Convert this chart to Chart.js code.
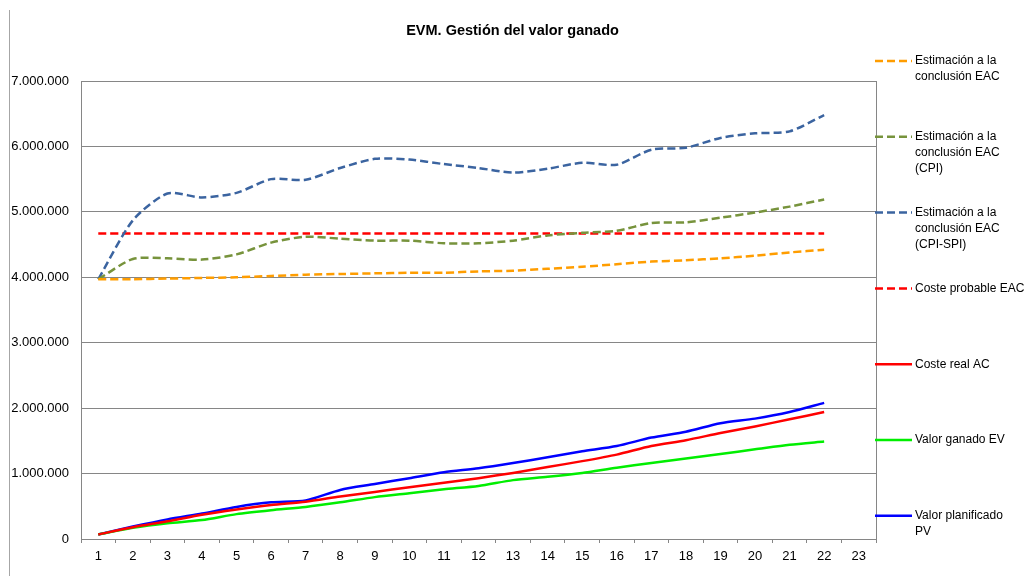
<!DOCTYPE html>
<html>
<head>
<meta charset="utf-8">
<script src="https://cdn.jsdelivr.net/npm/chart.js@4/dist/chart.umd.min.js"></script>
<style>
  html, body { margin: 0; padding: 0; background: #fff; }
</style>
</head>
<body>
<canvas id="myChart" width="1025" height="576"></canvas>
<script>
const categories = ['1','2','3','4','5','6','7','8','9','10','11','12','13','14','15','16','17','18','19','20','21','22','23'];

const eac       = [3970000, 3970000, 3980000, 3990000, 4000000, 4020000, 4040000, 4050000, 4060000, 4070000, 4070000, 4090000, 4100000, 4130000, 4160000, 4200000, 4240000, 4260000, 4290000, 4330000, 4380000, 4420000];
const eacCpi    = [3970000, 4280000, 4290000, 4270000, 4350000, 4530000, 4620000, 4590000, 4560000, 4560000, 4520000, 4520000, 4560000, 4640000, 4680000, 4710000, 4830000, 4840000, 4910000, 4990000, 5080000, 5190000];
const eacCpiSpi = [3970000, 4870000, 5280000, 5220000, 5290000, 5500000, 5490000, 5670000, 5810000, 5800000, 5730000, 5670000, 5600000, 5660000, 5750000, 5720000, 5950000, 5980000, 6130000, 6200000, 6230000, 6480000];
const costeProbable = [4670000, 4670000, 4670000, 4670000, 4670000, 4670000, 4670000, 4670000, 4670000, 4670000, 4670000, 4670000, 4670000, 4670000, 4670000, 4670000, 4670000, 4670000, 4670000, 4670000, 4670000, 4670000];
const costeReal = [70000, 180000, 270000, 370000, 450000, 520000, 570000, 650000, 720000, 790000, 860000, 930000, 1010000, 1100000, 1190000, 1290000, 1420000, 1510000, 1620000, 1720000, 1830000, 1940000];
const valorGanado = [70000, 170000, 240000, 290000, 380000, 440000, 490000, 560000, 640000, 700000, 760000, 810000, 900000, 950000, 1010000, 1090000, 1160000, 1230000, 1300000, 1370000, 1440000, 1490000];
const valorPlanificado = [70000, 190000, 300000, 390000, 490000, 560000, 590000, 750000, 840000, 930000, 1020000, 1080000, 1160000, 1250000, 1340000, 1420000, 1550000, 1640000, 1770000, 1840000, 1940000, 2080000];

const yTicks = [0, 1000000, 2000000, 3000000, 4000000, 5000000, 6000000, 7000000];

const FONT = "'Liberation Sans', Arial, sans-serif";
Chart.defaults.font.family = FONT;
Chart.defaults.color = '#000';

function fmt(v) {
  return String(v).replace(/\B(?=(\d{3})+(?!\d))/g, '.');
}

// legend on the right, with wrapped labels like the spreadsheet one
const sideLegend = {
  id: 'sideLegend',
  afterDraw(chart) {
    const c = chart.ctx;
    c.save();
    // outer chart frame edge on the left
    c.strokeStyle = '#a6a6a6';
    c.lineWidth = 1;
    c.beginPath();
    c.moveTo(9.5, 10);
    c.lineTo(9.5, 576);
    c.stroke();

    c.font = '12px ' + FONT;
    c.textBaseline = 'middle';
    c.fillStyle = '#000';
    chart.data.datasets.forEach((ds, i) => {
      const y = 61 + i * 75.8;
      c.strokeStyle = ds.borderColor;
      c.lineWidth = 2.5;
      c.setLineDash(ds.borderDash || []);
      c.beginPath();
      c.moveTo(875, y);
      c.lineTo(912, y);
      c.stroke();
      c.setLineDash([]);
      ds.label.split('\n').forEach((t, k) => {
        c.fillText(t, 915, y + k * 16);
      });
    });
    c.restore();
  }
};

function line(label, data, color, dashed) {
  return {
    label: label,
    data: data,
    borderColor: color,
    backgroundColor: color,
    borderWidth: 2.5,
    borderDash: dashed ? [8, 4] : [],
    pointRadius: 0,
    tension: 0.25,
    fill: false
  };
}

const ctx = document.getElementById('myChart');

new Chart(ctx, {
  type: 'line',
  data: {
    labels: categories,
    datasets: [
      line('Estimación a la\nconclusión EAC', eac, '#ff9d00', true),
      line('Estimación a la\nconclusión EAC\n(CPI)', eacCpi, '#77933c', true),
      line('Estimación a la\nconclusión EAC\n(CPI-SPI)', eacCpiSpi, '#3b64a0', true),
      line('Coste probable EAC', costeProbable, '#ff0000', true),
      line('Coste real AC', costeReal, '#ff0000', false),
      line('Valor ganado EV', valorGanado, '#00ee00', false),
      line('Valor planificado\nPV', valorPlanificado, '#0000ff', false)
    ]
  },
  options: {
    responsive: false,
    animation: false,
    layout: { padding: 0 },
    plugins: {
      legend: { display: false },
      tooltip: { enabled: false },
      title: {
        display: true,
        text: 'EVM. Gestión del valor ganado',
        font: { size: 14.5, weight: 'bold', family: FONT },
        color: '#000',
        padding: { top: 22, bottom: 41.6 }
      }
    },
    scales: {
      x: {
        offset: true,
        grid: { offset: true, drawOnChartArea: false, drawTicks: true, tickLength: 4, color: '#868686' },
        border: { display: true, color: '#868686' },
        ticks: { padding: 6, font: { size: 13 }, color: '#000', maxRotation: 0, autoSkip: false },
        afterFit(scale) { scale.height = 37; }
      },
      y: {
        min: 0,
        max: 7000000,
        afterBuildTicks(scale) { scale.ticks = yTicks.map(v => ({ value: v })); },
        grid: { color: '#868686', drawTicks: false },
        border: { display: true, color: '#868686' },
        ticks: { padding: 12, font: { size: 13 }, color: '#000', callback: v => fmt(v) },
        afterFit(scale) { scale.width = 81; }
      },
      // empty right axis: reserves the legend column and draws the right plot border
      yRight: {
        position: 'right',
        min: 0,
        max: 7000000,
        grid: { drawOnChartArea: false, drawTicks: false },
        border: { display: true, color: '#868686' },
        ticks: { display: false },
        afterFit(scale) { scale.width = 149; }
      }
    }
  },
  plugins: [sideLegend]
});
</script>
</body>
</html>
